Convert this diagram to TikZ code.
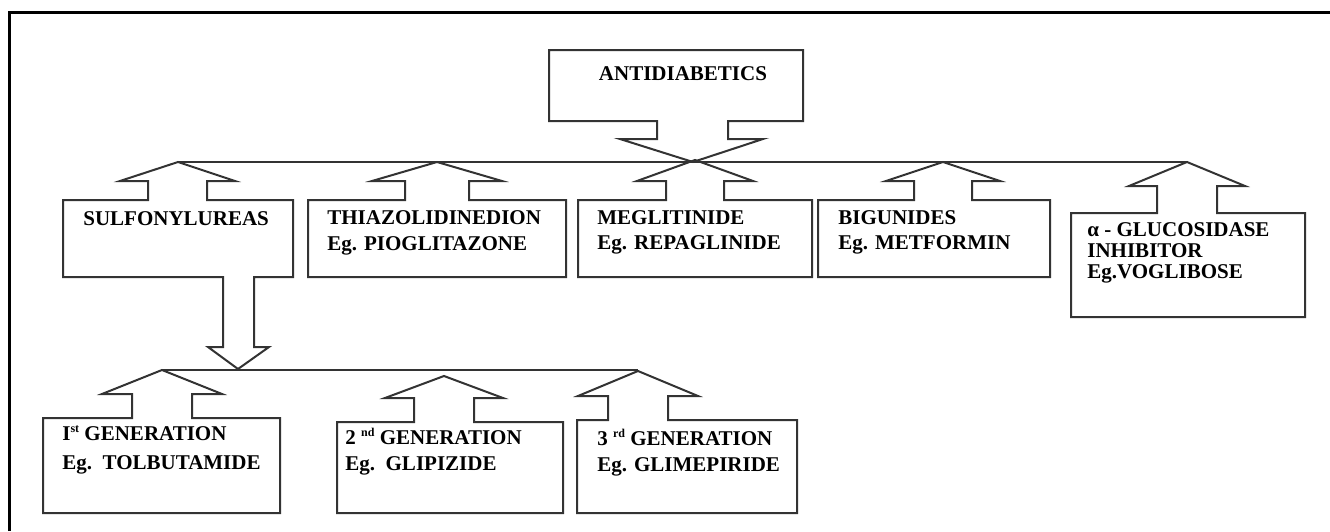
\documentclass[tikz,border=0pt]{standalone}
\usepackage{fontspec}
\setmainfont{Liberation Serif}
\newcommand\tinysup[1]{\raisebox{0.75ex}{\fontsize{6}{6}\selectfont #1}}
\begin{document}
\begin{tikzpicture}[x=0.5pt,y=-0.5pt,
  boxline/.style={draw=black!80,line width=1pt,line join=miter},
  frameline/.style={draw=black,line width=1.5pt},
  lbl/.style={inner sep=0pt,font=\bfseries\fontsize{10.5}{12}\selectfont,text=black,anchor=base west}]
\useasboundingbox (0,0) rectangle (1330,531);
\draw[frameline] (9.5,531) -- (9.5,12) -- (1330,12);
% box with an up block arrow: L T R B cx stemhalf winghalf wingy tipy
\newcommand\upbox[9]{%
  \draw[boxline] ({#5-#6},#2) -- (#1,#2) -- (#1,#4) -- (#3,#4) -- (#3,#2) -- ({#5+#6},#2)
    -- ({#5+#6},#8) -- ({#5+#7},#8) -- (#5,#9) -- ({#5-#7},#8) -- ({#5-#6},#8) -- cycle;}
% ANTIDIABETICS with down arrow
\draw[boxline] (657,121) -- (549,121) -- (549,50) -- (803,50) -- (803,121) -- (728,121)
  -- (728,139) -- (763,139) -- (693,162) -- (620,139) -- (657,139) -- cycle;
\coordinate (antitip) at (693,162);
% SULFONYLUREAS with up and down arrows
\draw[boxline] (148,200) -- (63,200) -- (63,277) -- (223,277) -- (223,347) -- (208,347)
  -- (238,369) -- (269,347) -- (254,347) -- (254,277) -- (293,277) -- (293,200)
  -- (207,200) -- (207,181) -- (235,181) -- (178,162) -- (120,181) -- (148,181) -- cycle;
\coordinate (sulftip) at (178,162);
\coordinate (sulfdown) at (238,369);
% top row
\upbox{308}{200}{566}{277}{437}{32}{65}{181}{162}
\upbox{578}{200}{812}{277}{695}{29}{58}{181}{160}
\upbox{818}{200}{1050}{277}{943}{29}{57}{181}{162}
\upbox{1071}{213}{1305}{317}{1187}{30}{58}{186}{162}
\coordinate (alphatip) at (1187,162);
\draw[boxline] (sulftip) -- (alphatip);
% bottom row
\upbox{43}{418}{280}{513}{162}{30}{60}{394}{370}
\upbox{337}{422}{563}{513}{444}{30}{59}{398}{376}
\upbox{577}{420}{797}{513}{638}{30}{60}{396}{371}
\coordinate (gen1tip) at (162,370);
\coordinate (gen3tip) at (638,370);
\draw[boxline] (gen1tip) -- (gen3tip);
% texts
\node[lbl,anchor=base] (anti) at (683,80) {ANTIDIABETICS};
\node[lbl] (sulf) at (83,225) {SULFONYLUREAS};
\node[lbl] (thia1) at (327,224) {THIAZOLIDINEDION};
\node[lbl] (thia2) at (327,250) {Eg. PIOGLITAZONE};
\node[lbl] (meg1) at (597,224) {MEGLITINIDE};
\node[lbl] (meg2) at (597,249) {Eg. REPAGLINIDE};
\node[lbl] (big1) at (838,224) {BIGUNIDES};
\node[lbl] (big2) at (838,249) {Eg. METFORMIN};
\node[lbl] (alpha1) at (1087,236) {α - GLUCOSIDASE};
\node[lbl] (alpha2) at (1087,257) {INHIBITOR};
\node[lbl] (alpha3) at (1087,278) {Eg.VOGLIBOSE};
\node[lbl] (g1a) at (62,440) {I\tinysup{st} GENERATION};
\node[lbl] (g1b) at (62,469) {Eg.\ \ TOLBUTAMIDE};
\node[lbl] (g2a) at (345,444) {2 \tinysup{nd} GENERATION};
\node[lbl] (g2b) at (345,470) {Eg.\ \ GLIPIZIDE};
\node[lbl] (g3a) at (597,445) {3 \tinysup{rd} GENERATION};
\node[lbl] (g3b) at (597,471) {Eg. GLIMEPIRIDE};
\end{tikzpicture}
\end{document}
